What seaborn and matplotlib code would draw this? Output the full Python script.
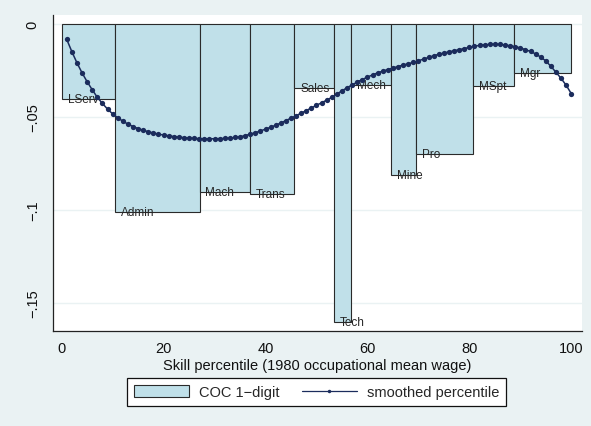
import matplotlib
matplotlib.use("Agg")
import matplotlib.pyplot as plt
from matplotlib.patches import Patch
from matplotlib.lines import Line2D
import numpy as np
import pandas as pd
import seaborn as sns

# One-digit occupation groups, ordered by 1980 wage percentile
occupations = ["LServ", "Admin", "Mach", "Trans", "Sales", "Tech",
               "Mech", "Mine", "Pro", "MSpt", "Mgr"]
# Percentile boundaries of each occupation group
group_edges = [0, 10.4, 27.05, 36.9, 45.6, 53.4, 56.7, 64.6, 69.6, 80.7, 88.8, 100]
# Change for each occupation group
coc_change = [-0.0405, -0.1010, -0.0902, -0.0917, -0.0344, -0.1606,
              -0.0329, -0.0813, -0.0698, -0.0333, -0.0264]

# Smoothed change by skill percentile
percentile = list(range(1, 101))
smoothed = [
    -0.0083, -0.0149, -0.0209, -0.0263, -0.0311, -0.0354, -0.0395, -0.0428, -0.0458, -0.0484,
    -0.0505, -0.0523, -0.0539, -0.0552, -0.0563, -0.0572, -0.0580, -0.0587, -0.0593, -0.0598,
    -0.0602, -0.0606, -0.0609, -0.0612, -0.0614, -0.0616, -0.0617, -0.0618, -0.0618, -0.0618,
    -0.0617, -0.0616, -0.0614, -0.0611, -0.0607, -0.0601, -0.0593, -0.0585, -0.0576, -0.0566,
    -0.0556, -0.0545, -0.0533, -0.0520, -0.0507, -0.0494, -0.0480, -0.0466, -0.0452, -0.0438,
    -0.0424, -0.0410, -0.0395, -0.0377, -0.0360, -0.0343, -0.0328, -0.0313, -0.0299, -0.0286,
    -0.0274, -0.0263, -0.0254, -0.0245, -0.0237, -0.0229, -0.0221, -0.0214, -0.0207, -0.0198,
    -0.0189, -0.0180, -0.0171, -0.0163, -0.0156, -0.0150, -0.0144, -0.0138, -0.0132, -0.0126,
    -0.0120, -0.0115, -0.0112, -0.0110, -0.0109, -0.0110, -0.0113, -0.0117, -0.0122, -0.0129,
    -0.0138, -0.0148, -0.0161, -0.0178, -0.0199, -0.0228, -0.0260, -0.0293, -0.0330, -0.0375,
]

y_ticks = [0, -0.05, -0.10, -0.15]
y_ticklabels = ["0", "\u2212.05", "\u2212.1", "\u2212.15"]
x_ticks = [0, 20, 40, 60, 80, 100]

BG = "#EAF2F3"
BAR = "#C0E0E9"
NAVY = "#1B2C5C"

sns.set_theme(style="white")
plt.rcParams["font.family"] = ["Liberation Sans", "DejaVu Sans"]
plt.rcParams["axes.unicode_minus"] = True

fig = plt.figure(figsize=(5.91, 4.27), dpi=100, facecolor=BG)
ax = fig.add_axes([53 / 591, 1 - 332 / 427, (582 - 53) / 591, (332 - 16) / 427])
ax.set_facecolor("white")

groups = pd.DataFrame({
    "occupation": occupations,
    "left": group_edges[:-1],
    "width": np.diff(group_edges),
    "change": coc_change,
})
curve = pd.DataFrame({"percentile": percentile, "smoothed": smoothed})

# Light horizontal grid at the y ticks
for yt in y_ticks:
    ax.axhline(yt, color=BG, lw=1.0, zorder=0.5)

ax.bar(groups["left"], groups["change"], width=groups["width"], align="edge",
       color=BAR, edgecolor="#2a2a2a", linewidth=0.8, zorder=1)

for _, row in groups.iterrows():
    ax.annotate(row["occupation"], (row["left"], row["change"]),
                xytext=(4.3, 0), textcoords="offset points",
                ha="left", va="center", fontsize=8.5, color="#262626", zorder=3)

sns.lineplot(data=curve, x="percentile", y="smoothed", ax=ax, color=NAVY,
             linewidth=1.1, marker="o", markersize=3.8, markeredgewidth=0,
             zorder=4, legend=False)

ax.set_xlim(-1.7, 102.1)
ax.set_ylim(-0.1653, 0.00485)
ax.set_xticks(x_ticks)
ax.set_xticklabels([str(t) for t in x_ticks], fontsize=10.5)
ax.set_yticks(y_ticks)
ax.set_yticklabels(y_ticklabels, fontsize=10.5, rotation=90, va="center")
ax.tick_params(axis="both", direction="out", length=4.5, width=0.8, color="#222222",
               pad=3, labelcolor="#111111")
ax.tick_params(axis="y", pad=5)
ax.set_xlabel("Skill percentile (1980 occupational mean wage)", fontsize=10.5,
              color="#111111", labelpad=2)
ax.set_ylabel("")

for side in ["top", "right"]:
    ax.spines[side].set_visible(False)
for side in ["left", "bottom"]:
    ax.spines[side].set_color("#222222")
    ax.spines[side].set_linewidth(0.9)

handles = [
    Patch(facecolor=BAR, edgecolor="#2a2a2a", linewidth=0.8, label="COC 1\u2212digit"),
    Line2D([], [], color=NAVY, linewidth=0.9, marker="o", markersize=2.5,
           markeredgewidth=0, label="smoothed percentile"),
]
leg = fig.legend(handles=handles, loc="center", bbox_to_anchor=(316.5 / 591, 1 - 393 / 427),
                 ncol=2, frameon=True, fancybox=False, fontsize=10.5,
                 handlelength=3.8, handleheight=0.9, handletextpad=0.7,
                 columnspacing=1.5, borderpad=0.45, borderaxespad=0, numpoints=1)
leg.get_frame().set_edgecolor("#111111")
leg.get_frame().set_linewidth(0.9)
leg.get_frame().set_facecolor("white")
leg.get_frame().set_alpha(1)

fig.savefig("out.png", dpi=100, facecolor=BG)
